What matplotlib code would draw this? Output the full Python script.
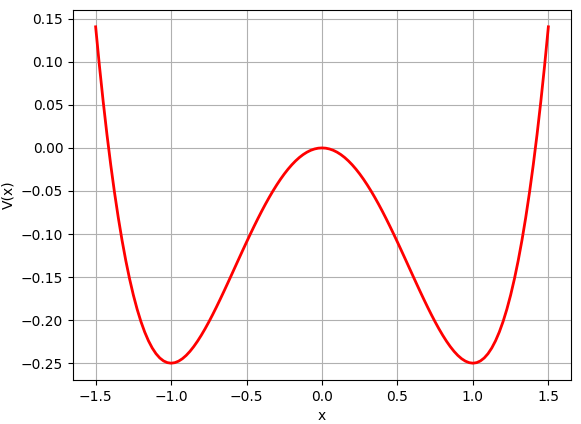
import numpy as np
import matplotlib
matplotlib.use("Agg")
from matplotlib import pyplot as plt

# x grid and V(x) values (right half, mirrored for left)
x = np.linspace(-1.5, 1.5, 121)
v_right = [0.0, -0.00031, -0.00125, -0.0028, -0.004975, -0.00775, -0.01112,
           -0.01508, -0.0196, -0.02467, -0.03027, -0.03638, -0.04298, -0.05002,
           -0.0575, -0.06537, -0.0736, -0.08216, -0.091, -0.10009, -0.10938,
           -0.11882, -0.12837, -0.13798, -0.1476, -0.15717, -0.16662, -0.17591,
           -0.18498, -0.19374, -0.20215, -0.21013, -0.2176, -0.2245, -0.23075,
           -0.23627, -0.24098, -0.24479, -0.24762, -0.24939, -0.25, -0.24936,
           -0.24737, -0.24395, -0.23898, -0.23236, -0.224, -0.21378, -0.2016,
           -0.18734, -0.1709, -0.15215, -0.13098, -0.10726, -0.08087, -0.0517,
           -0.0196, 0.01555, 0.05388, 0.09552, 0.14063]
v = v_right[::-1] + v_right[1:]

fig = plt.figure(figsize=(5.81, 4.24), dpi=100)
ax = fig.add_axes([73/581, 44/424, 498/581, 370/424])
ax.plot(x, v, color='red', linewidth=2)
ax.set_xlabel('x')
ax.set_ylabel('V(x)')
ax.grid(True)
fig.savefig('out.png', dpi=100)
